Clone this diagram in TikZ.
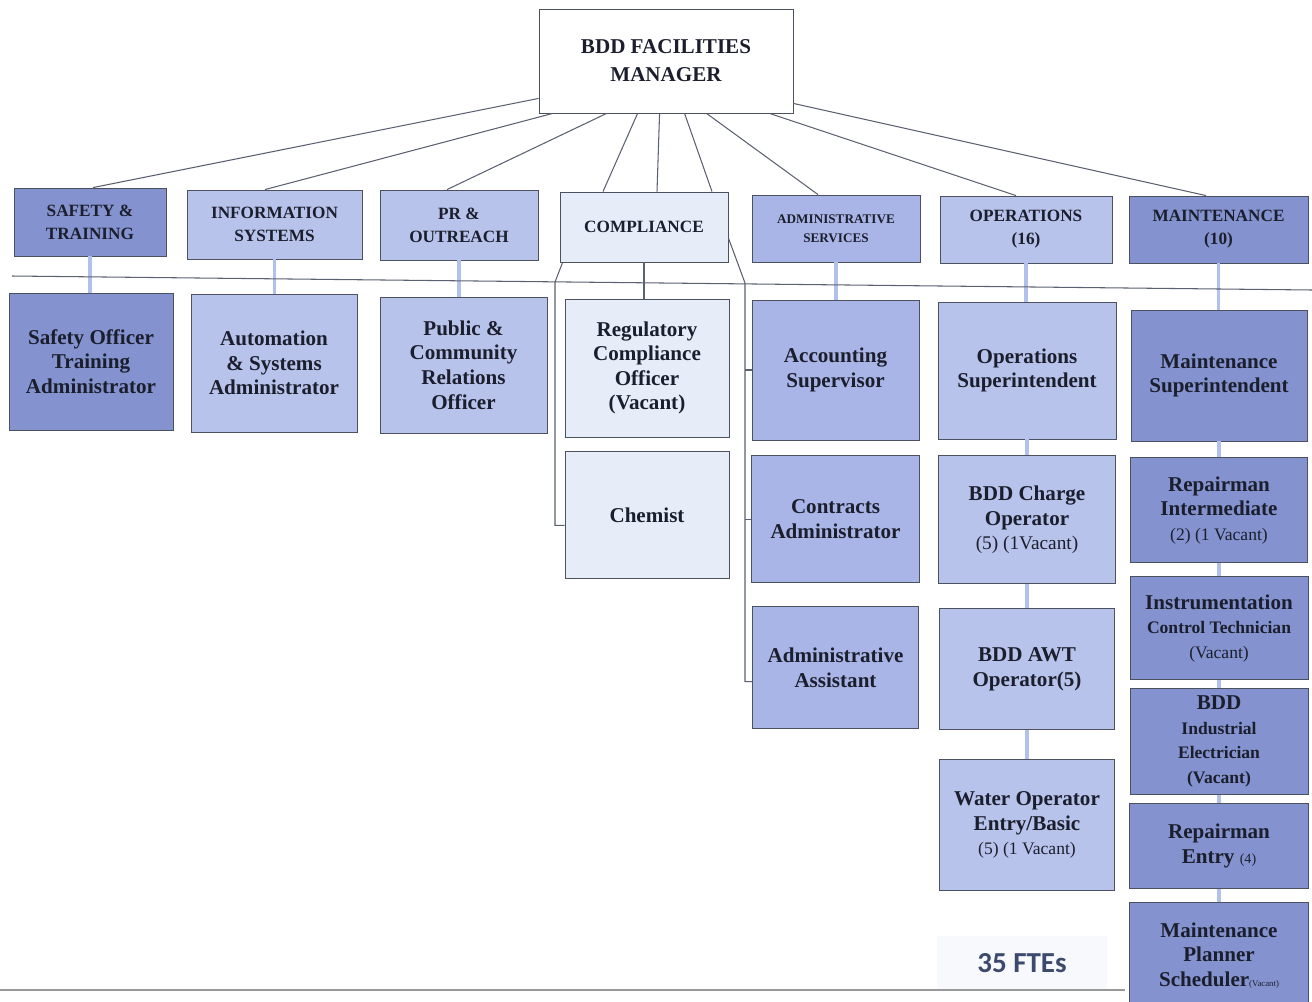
\documentclass[tikz,border=0pt]{standalone}
\usepackage{fontspec}
\setmainfont{Liberation Serif}
\newfontfamily\ftefont{Carlito}
\usepackage{xcolor}
\usepackage{tikz}
\usetikzlibrary{positioning}
\definecolor{boxdark}{HTML}{8493CF}
\definecolor{boxlight}{HTML}{B8C3EC}
\definecolor{boxmid}{HTML}{A9B5E7}
\definecolor{boxpale}{HTML}{E6EDF8}
\definecolor{boxline}{HTML}{4C5160}
\definecolor{inkblue}{HTML}{1B1E2C}
\definecolor{linegray}{HTML}{5B6170}
\definecolor{chainblue}{HTML}{B0C1EE}
\definecolor{ftetext}{HTML}{3C4A6E}
\definecolor{ftebg}{HTML}{F8F9FC}
\newcommand{\subline}[1]{{\fontsize{10}{13}\selectfont #1}}
\newcommand{\noteline}[1]{{\mdseries #1}}
\tikzset{org-line/.style={line width=0.6pt, draw=linegray}}
\tikzset{chain-line/.style={line width=2pt, draw=chainblue}}
\tikzset{org-box/.style={draw=boxline, line width=0.5pt, inner sep=2pt, align=center, text=inkblue}}
\tikzset{box-size/.style 2 args={minimum width=#1, minimum height=#2}}
\tikzset{dept-box/.style={org-box, font=\bfseries\fontsize{9.8}{13}\selectfont}}
\tikzset{role-box/.style={org-box, font=\bfseries\fontsize{12}{14}\selectfont}}
\tikzset{dark-fill/.style={fill=boxdark}}
\tikzset{light-fill/.style={fill=boxlight}}
\tikzset{mid-fill/.style={fill=boxmid}}
\tikzset{pale-fill/.style={fill=boxpale}}

\begin{document}
\begin{tikzpicture}[x=0.02cm, y=-0.02cm]
            \useasboundingbox (0,0) rectangle (1312,1001);

            \node[org-box, fill=white, box-size={5.08cm}{2.08cm}, font=\bfseries\fontsize{12}{16}\selectfont] (mgr) at (666,61) {BDD FACILITIES\\MANAGER};

            \node[dept-box, dark-fill, box-size={3.04cm}{1.36cm}] (safety) at (90,222) {SAFETY \&\\TRAINING};
            \node[dept-box, light-fill, box-size={3.5cm}{1.38cm}] (info) at (274.5,224.5) {INFORMATION\\SYSTEMS};
            \node[dept-box, light-fill, box-size={3.16cm}{1.4cm}] (pr) at (459,225) {PR \&\\OUTREACH};
            \node[dept-box, pale-fill, box-size={3.36cm}{1.4cm}] (comp) at (644,227) {COMPLIANCE};
            \node[dept-box, mid-fill, box-size={3.36cm}{1.34cm}, font=\bfseries\fontsize{7.5}{11}\selectfont] (admin) at (836,228.5) {ADMINISTRATIVE\\SERVICES};
            \node[dept-box, light-fill, box-size={3.44cm}{1.34cm}] (ops) at (1026,229.5) {OPERATIONS\\(16)};
            \node[dept-box, dark-fill, box-size={3.58cm}{1.34cm}] (maint) at (1218.5,229.5) {MAINTENANCE\\(10)};

            \node[role-box, dark-fill, box-size={3.28cm}{2.74cm}] (safetyoff) at (91,361.5) {Safety Officer\\Training\\Administrator};
            \node[role-box, light-fill, box-size={3.32cm}{2.76cm}] (autoadm) at (274,363) {Automation\\\& Systems\\Administrator};
            \node[role-box, light-fill, box-size={3.34cm}{2.72cm}] (publicrel) at (463.5,365) {Public \&\\Community\\Relations\\Officer};
            \node[role-box, pale-fill, box-size={3.28cm}{2.76cm}] (regcomp) at (647,368) {Regulatory\\Compliance\\Officer\\(Vacant)};
            \node[role-box, mid-fill, box-size={3.34cm}{2.8cm}] (acct) at (835.5,370) {Accounting\\Supervisor};
            \node[role-box, light-fill, box-size={3.56cm}{2.74cm}] (opsup) at (1027,370.5) {Operations\\Superintendent};
            \node[role-box, dark-fill, box-size={3.52cm}{2.62cm}] (maintsup) at (1219,375.5) {Maintenance\\Superintendent};

            \node[role-box, pale-fill, box-size={3.28cm}{2.54cm}, below=0.28cm of regcomp] (chemist) {Chemist};

            \node[role-box, mid-fill, box-size={3.36cm}{2.54cm}, below=0.3cm of acct] (contracts) {Contracts\\Administrator};
            \node[role-box, mid-fill, box-size={3.32cm}{2.44cm}, below=0.46cm of contracts] (adminasst) {Administrative\\Assistant};

            \node[role-box, light-fill, box-size={3.54cm}{2.56cm}, below=0.32cm of opsup] (charge) {BDD Charge\\Operator\\\noteline{\fontsize{11}{14}\selectfont(5) (1Vacant)}};
            \node[role-box, light-fill, box-size={3.5cm}{2.42cm}, below=0.48cm of charge] (awt) {BDD AWT\\Operator(5)};
            \node[role-box, light-fill, box-size={3.5cm}{2.62cm}, below=0.58cm of awt] (water) {Water Operator\\Entry/Basic\\\noteline{\fontsize{10}{13}\selectfont(5) (1 Vacant)}};

            \node[role-box, dark-fill, box-size={3.54cm}{2.1cm}, below=0.32cm of maintsup] (repint) {Repairman\\Intermediate\\\noteline{\subline{(2) (1 Vacant)}}};
            \node[role-box, dark-fill, box-size={3.56cm}{2.06cm}, below=0.26cm of repint] (instr) {Instrumentation\\\subline{Control Technician}\\\noteline{\subline{(Vacant)}}};
            \node[role-box, dark-fill, box-size={3.56cm}{2.12cm}, below=0.16cm of instr] (elec) {BDD\\\subline{Industrial}\\\subline{Electrician}\\\subline{(Vacant)}};
            \node[role-box, dark-fill, box-size={3.58cm}{1.7cm}, below=0.16cm of elec] (repentry) {Repairman\\Entry \noteline{\fontsize{8}{10}\selectfont(4)}};
            \node[role-box, dark-fill, box-size={3.58cm}{2.12cm}, below=0.26cm of repentry] (planner) {Maintenance\\Planner\\Scheduler\noteline{\fontsize{5}{6}\selectfont(Vacant)}};

            \node[fill=ftebg, minimum width=3.4cm, minimum height=1.1cm, text=ftetext, font=\ftefont\bfseries\fontsize{16.5}{19}\selectfont] (fte) at (1022,963) {35 FTEs};

            \draw[org-line] ([yshift=0.3cm]mgr.south west) -- ([xshift=0.06cm]safety.north);
            \draw[org-line] ([xshift=0.28cm]mgr.south west) -- ([xshift=-0.19cm]info.north);
            \draw[org-line] ([xshift=1.36cm]mgr.south west) -- ([xshift=-0.24cm]pr.north);
            \draw[org-line] ([xshift=1.98cm]mgr.south west) -- ([xshift=-0.82cm]comp.north);
            \draw[org-line] ([xshift=2.42cm]mgr.south west) -- ([xshift=0.26cm]comp.north);
            \draw[org-line] ([xshift=2.92cm]mgr.south west) -- ([xshift=1.36cm]comp.north);
            \draw[org-line] ([xshift=3.36cm]mgr.south west) -- ([xshift=-0.36cm]admin.north);
            \draw[org-line] ([xshift=4.62cm]mgr.south west) -- ([xshift=-0.2cm]ops.north);
            \draw[org-line] ([yshift=0.2cm]mgr.south east) -- ([xshift=-0.25cm]maint.north);

            \draw[chain-line] (safety.south) -- (safety.south |- safetyoff.north);
            \draw[chain-line] (info.south) -- (info.south |- autoadm.north);
            \draw[chain-line] (pr.south) -- (pr.south |- publicrel.north);
            \draw[org-line] (comp.south) -- (comp.south |- regcomp.north);
            \draw[chain-line] (admin.south) -- (admin.south |- acct.north);
            \draw[chain-line] (ops.south) -- (ops.south |- opsup.north);
            \draw[chain-line] (maint.south) -- (maint.south |- maintsup.north);

            \draw[org-line] (12,276) -- (1312,290);

            \coordinate (comp-l) at (555,282);
            \coordinate (comp-r) at (745,283);
            \coordinate (chem-in) at ([yshift=-0.2cm]chemist.west);
            \coordinate (aa-in) at ([yshift=-0.28cm]adminasst.west);
            \draw[org-line] ([xshift=0.06cm]comp.south west) -- (comp-l) -- (comp-l |- chem-in) -- (chem-in);
            \draw[org-line] ([yshift=-0.22cm]comp.east) -- (comp-r) -- (comp-r |- aa-in) -- (aa-in);
            \draw[org-line] (comp-r |- acct.west) -- (acct.west);
            \draw[org-line] (comp-r |- contracts.west) -- (contracts.west);

            \draw[chain-line] (opsup.south) -- (opsup.south |- charge.north);
            \draw[chain-line] (charge.south) -- (charge.south |- awt.north);
            \draw[chain-line] (awt.south) -- (awt.south |- water.north);

            \draw[chain-line] (maintsup.south) -- (maintsup.south |- repint.north);
            \draw[chain-line] (repint.south) -- (repint.south |- instr.north);
            \draw[chain-line] (instr.south) -- (instr.south |- elec.north);
            \draw[chain-line] (elec.south) -- (elec.south |- repentry.north);
            \draw[chain-line] (repentry.south) -- (repentry.south |- planner.north);

            \draw[line width=1pt, draw=gray!80] (0,990) -- (1125,990);
        \end{tikzpicture}
\end{document}
